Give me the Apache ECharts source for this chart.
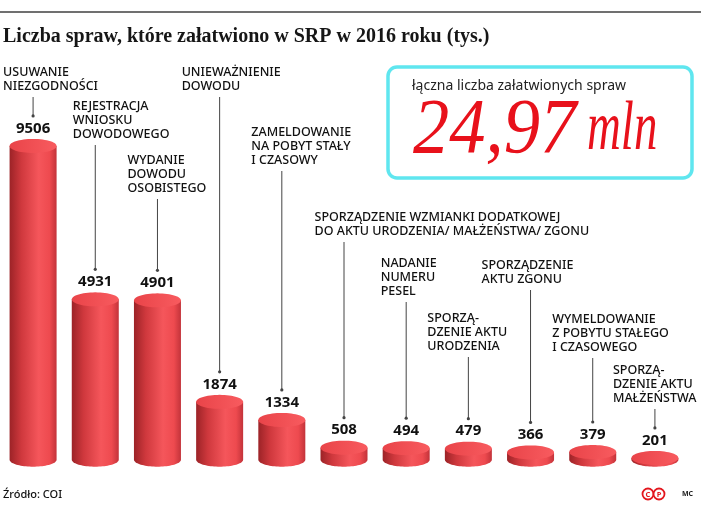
<!DOCTYPE html>
<html><head><meta charset="utf-8">
<script src="https://cdn.jsdelivr.net/npm/echarts@6/dist/echarts.min.js"></script>
<style>html,body{margin:0;padding:0;background:#fff}#c{width:716px;height:522px}</style>
</head><body><div id="c"></div>
<script>
// ---- data ----
const categories = [
  'USUWANIE\nNIEZGODNOŚCI',
  'REJESTRACJA\nWNIOSKU\nDOWODOWEGO',
  'WYDANIE\nDOWODU\nOSOBISTEGO',
  'UNIEWAŻNIENIE\nDOWODU',
  'ZAMELDOWANIE\nNA POBYT STAŁY\nI CZASOWY',
  'SPORZĄDZENIE WZMIANKI DODATKOWEJ\nDO AKTU URODZENIA/ MAŁŻEŃSTWA/ ZGONU',
  'NADANIE\nNUMERU\nPESEL',
  'SPORZĄ-\nDZENIE AKTU\nURODZENIA',
  'SPORZĄDZENIE\nAKTU ZGONU',
  'WYMELDOWANIE\nZ POBYTU STAŁEGO\nI CZASOWEGO',
  'SPORZĄ-\nDZENIE AKTU\nMAŁŻEŃSTWA'
];
const values = [9506, 4931, 4901, 1874, 1334, 508, 494, 479, 366, 379, 201];
const titleText = 'Liczba spraw, które załatwiono w SRP w 2016 roku (tys.)';
const boxCaption = 'łączna liczba załatwionych spraw';
const totalValue = '24,97';
const totalUnit = 'mln';
const sourceText = 'Źródło: COI';
const authorText = 'MC';

// ---- layout (annotation placement) ----
const labelDx = [-30, -22.5, -30, -38, -30.5, -29.5, -25.5, -41, -49, -40.5, -42];
const labelY  = [72, 106, 160, 72, 132, 217, 263, 318, 265, 319, 370];

const SANS = '"Noto Sans", "Open Sans", sans-serif';

function ellipsePts(cx, cy, rx, ry, a0, a1, n) {
  const pts = [];
  for (let k = 0; k <= n; k++) {
    const a = a0 + (a1 - a0) * k / n;
    pts.push([cx + rx * Math.cos(a), cy + ry * Math.sin(a)]);
  }
  return pts;
}

const bodyGrad = {type:'linear', x:0, y:0, x2:1, y2:0, colorStops:[
  {offset:0, color:'#9c2327'}, {offset:0.25, color:'#cf383d'},
  {offset:0.62, color:'#f5565b'}, {offset:0.85, color:'#ee4a4f'}, {offset:1, color:'#c3333a'}]};
const topGrad = {type:'linear', x:0, y:0, x2:1, y2:0, colorStops:[
  {offset:0, color:'#e94449'}, {offset:1, color:'#f85b5f'}]};

function renderItem(params, api) {
  const i = api.value(0), v = api.value(1);
  const top = api.coord([i, v]);
  const base = api.coord([i, 0]);
  const cx = top[0], rx = 23.5, ry = 7;
  const topY = top[1];
  const botY = base[1] - 5;
  const body = [[cx - rx, topY]].concat(ellipsePts(cx, botY, rx, ry, Math.PI, 0, 40)).concat([[cx + rx, topY]]);
  const cap = ellipsePts(cx, topY, rx, ry, 0, Math.PI * 2, 60);
  const lines = categories[i].split('\n');
  const lineTop = labelY[i] + (lines.length - 1) * 14 + 11;
  const dotY = topY - ry - 23;
  return {
    type: 'group',
    children: [
      {type:'polygon', shape:{points: body}, style:{fill: bodyGrad}},
      {type:'polygon', shape:{points: cap}, style:{fill: topGrad}},
      {type:'text', x: cx, y: topY - 17.5, style:{text: String(v), fill:'#111',
        fontFamily: SANS, fontWeight:'bold', fontSize:15, align:'center', verticalAlign:'middle'}},
      {type:'line', shape:{x1:cx, y1:lineTop, x2:cx, y2:dotY}, style:{stroke:'#444', lineWidth:1}},
      {type:'circle', shape:{cx:cx, cy:dotY, r:1.6}, style:{fill:'#444'}},
      {type:'text', x: cx + labelDx[i], y: labelY[i] - 7, style:{text: categories[i], fill:'#111',
        fontFamily: SANS, fontWeight: 500, fontSize:12.5, lineHeight:14, align:'left', verticalAlign:'top'}}
    ]
  };
}

const chart = echarts.init(document.getElementById('c'), null, {renderer:'canvas'});
chart.setOption({
  animation: false,
  backgroundColor: '#fff',
  grid: {left: 2, right: 30, top: 129.4, bottom: 57.3},
  xAxis: {type:'category', data: categories.map((c, k) => k), show: false},
  yAxis: {type:'value', min: 0, max: 10000, show: false},
  series: [{
    type: 'custom',
    clip: false,
    renderItem: renderItem,
    data: values.map((v, k) => [k, v])
  }],
  graphic: [
    {type:'line', shape:{x1:0, y1:12, x2:701, y2:12}, style:{stroke:'#707070', lineWidth:2}},
    {type:'text', x:3, y:37, style:{text:titleText, fill:'#161616',
      font:'bold 20px "Liberation Serif", serif', align:'left', verticalAlign:'middle'}},
    {type:'rect', shape:{x:388, y:67, width:304, height:111, r:9},
      style:{fill:'#fff', stroke:'#5fe6ef', lineWidth:3.5}},
    {type:'text', x:412, y:86, style:{text:boxCaption, fill:'#222',
      font:'14px "Noto Sans", sans-serif', align:'left', verticalAlign:'middle'}},
    {type:'text', x:413, y:131, scaleX:0.93, style:{text:totalValue, fill:'#e8111b',
      font:'italic 78px "Liberation Serif", serif', align:'left', verticalAlign:'middle'}},
    {type:'text', x:587, y:131, scaleX:0.67, style:{text:totalUnit, fill:'#e8111b',
      font:'italic 70px "Liberation Serif", serif', align:'left', verticalAlign:'middle'}},
    {type:'text', x:3, y:495, style:{text:sourceText, fill:'#111',
      font:'500 11px "Noto Sans", sans-serif', align:'left', verticalAlign:'middle'}},
    {type:'circle', shape:{cx:648, cy:494, r:5.5}, style:{fill:'#fff', stroke:'#e3161d', lineWidth:1.8}},
    {type:'circle', shape:{cx:659, cy:494, r:5.5}, style:{fill:'#fff', stroke:'#e3161d', lineWidth:1.8}},
    {type:'text', x:648, y:494.5, style:{text:'C', fill:'#e3161d', font:'bold 7.5px "Noto Sans", sans-serif', align:'center', verticalAlign:'middle'}},
    {type:'text', x:659, y:494.5, style:{text:'P', fill:'#e3161d', font:'bold 7.5px "Noto Sans", sans-serif', align:'center', verticalAlign:'middle'}},
    {type:'text', x:682, y:494, style:{text:authorText, fill:'#222',
      font:'bold 7px "Noto Sans", sans-serif', align:'left', verticalAlign:'middle'}}
  ]
});
</script></body></html>
